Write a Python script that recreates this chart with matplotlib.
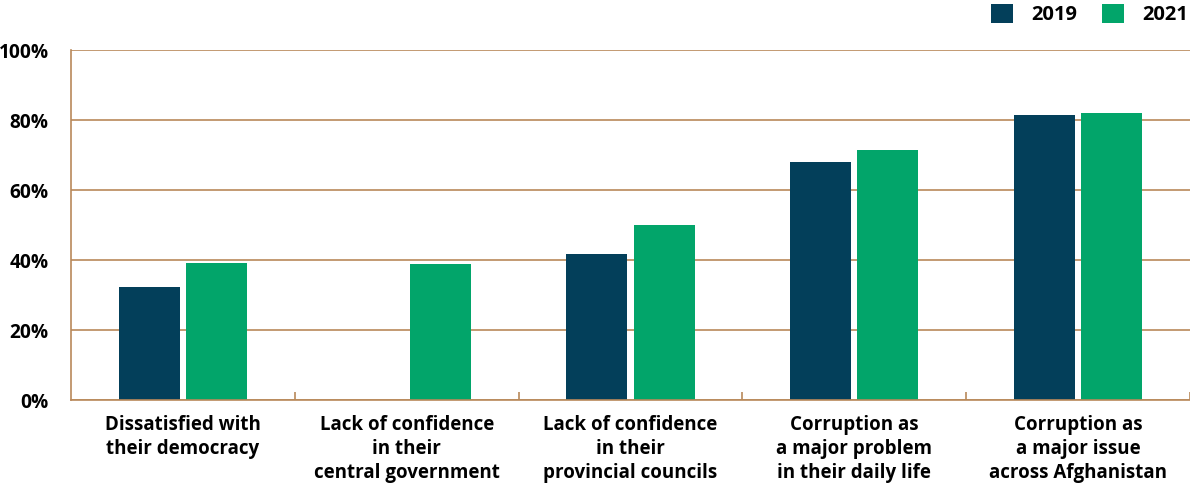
import matplotlib.pyplot as plt
import numpy as np

plt.rcParams['font.family'] = ['Open Sans', 'DejaVu Sans']
plt.rcParams['font.weight'] = 'bold'

categories = ["Dissatisfied with\ntheir democracy",
              "Lack of confidence\nin their\ncentral government",
              "Lack of confidence\nin their\nprovincial councils",
              "Corruption as\na major problem\nin their daily life",
              "Corruption as\na major issue\nacross Afghanistan"]
vals_2019 = [32.3, 0, 41.7, 68.0, 81.4]
vals_2021 = [39.1, 38.9, 50.0, 71.4, 82.0]
yticks = [0, 20, 40, 60, 80, 100]

c2019 = '#033f5a'
c2021 = '#02a56a'
tan = '#b9895a'

fig = plt.figure(figsize=(11.9, 4.84), dpi=100)
ax = fig.add_axes([71/1190, 84/484, 1119/1190, 350/484])

x = np.arange(len(categories))
w = 0.272
ax.bar(x - 0.15, vals_2019, w, color=c2019, label='2019', zorder=2)
ax.bar(x + 0.15, vals_2021, w, color=c2021, label='2021', zorder=2)

ax.set_xlim(-0.5, len(categories) - 0.5)
ax.set_ylim(0, 100)
ax.set_yticks(yticks)
ax.set_yticklabels([f'{v}%' for v in yticks], fontsize=13.8, fontweight='bold')
ax.tick_params(axis='y', length=0, pad=16)
ax.yaxis.grid(True, color=tan, linewidth=1.2, zorder=0)

ax.set_xticks(x)
ax.set_xticklabels(categories, fontsize=13.5, fontweight='bold', linespacing=1.25)
ax.tick_params(axis='x', which='major', length=0, pad=11)
ax.set_xticks(np.arange(len(categories)) + 0.5, minor=True)
ax.tick_params(axis='x', which='minor', direction='in', length=6, color=tan, width=1.2)

for s in ['top', 'right']:
    ax.spines[s].set_visible(False)
for s in ['left', 'bottom']:
    ax.spines[s].set_color(tan)
    ax.spines[s].set_linewidth(1.2)

ax.legend(loc='lower right', bbox_to_anchor=(0.998, 1.07), ncol=2, frameon=False,
          prop={'weight': 'bold', 'size': 14.5}, handlelength=1.1, handleheight=1.1,
          columnspacing=1.2, handletextpad=0.9, borderaxespad=0.0, borderpad=0.0)

fig.savefig('out.png', dpi=100)
